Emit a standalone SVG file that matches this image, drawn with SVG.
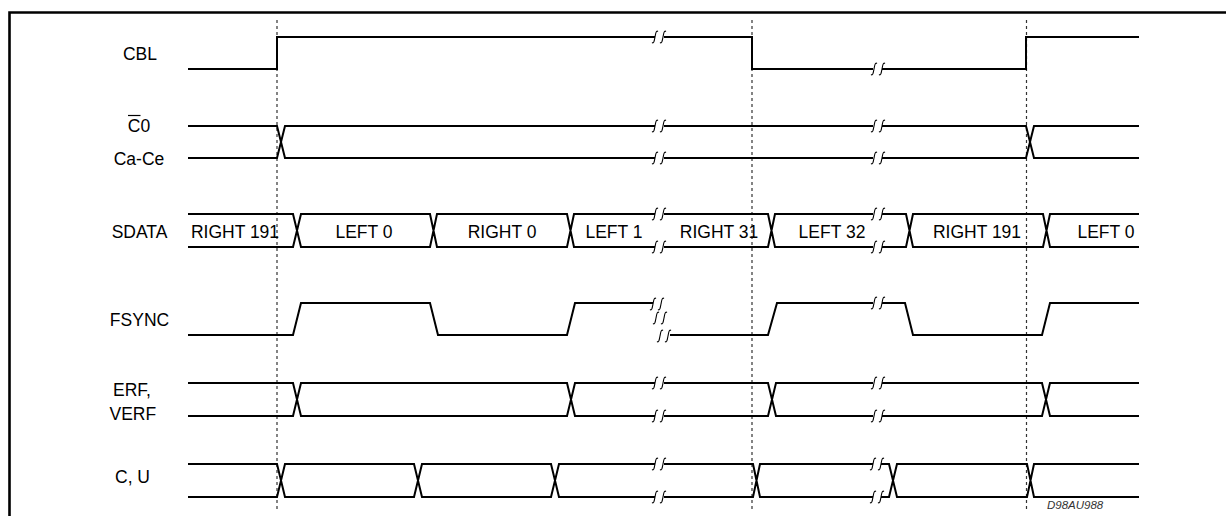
<svg xmlns="http://www.w3.org/2000/svg" xmlns:xlink="http://www.w3.org/1999/xlink" width="1226" height="516" viewBox="0 0 1226 516">
<style>
.sig{fill:none;stroke:#000;stroke-width:2;stroke-linejoin:miter;stroke-linecap:butt}
.lbl{font-family:"Liberation Sans",Arial,sans-serif;font-size:17.5px;fill:#000}
.mid{text-anchor:middle}
.grid{stroke:#333;stroke-width:1.2;stroke-dasharray:3 3;fill:none}
.frame{fill:none;stroke:#000;stroke-width:2.6}
.sq{fill:none;stroke:#000;stroke-width:1.1}
.code{font-family:"Liberation Sans",Arial,sans-serif;font-size:11.5px;font-style:italic;fill:#333}
</style>
<defs>
<g id="brk">
<path class="sq" d="M3,-5.5 C1,-7 0.6,-3 0,0 C-0.6,3 -1,7 -3,5.5"/>
<path class="sq" d="M11,-5.5 C9,-7 8.6,-3 8,0 C7.4,3 7,7 5,5.5"/>
</g>
</defs>
<rect width="1226" height="516" fill="#fff"/>
<g id="frame">
<path class="frame" d="M9.5,516 V12.5 H1226"/>
</g>
<g id="grid">
<line class="grid" x1="277" y1="20" x2="277" y2="512"/>
<line class="grid" x1="752" y1="20" x2="752" y2="512"/>
<line class="grid" x1="1026.5" y1="20" x2="1026.5" y2="512"/>
</g>
<g id="CBL">
<text class="lbl mid" x="140" y="60">CBL</text>
<path class="sig" d="M188,69 H277 V37 H655 M664,37 H752 V69 H873 M882,69 H1026 V37 H1139"/>
<use xlink:href="#brk" x="655" y="37"/>
<use xlink:href="#brk" x="874" y="69"/>
</g>
<g id="C0">
<text class="lbl mid" x="139" y="132">C0</text>
<line x1="128" y1="115.5" x2="140.5" y2="115.5" stroke="#000" stroke-width="1.2"/>
<text class="lbl mid" x="139" y="165">Ca-Ce</text>
<path class="sig" d="M188,126 H277 L285,158 H655 M188,158 H277 L285,126 H655 M664,126 H873 M664,158 H873 M882,126 H1026 L1034,158 H1139 M882,158 H1026 L1034,126 H1139"/>
<use xlink:href="#brk" x="655" y="126"/>
<use xlink:href="#brk" x="655" y="158"/>
<use xlink:href="#brk" x="874" y="126"/>
<use xlink:href="#brk" x="874" y="158"/>
</g>
<g id="SDATA">
<text class="lbl mid" x="139.5" y="237.5">SDATA</text>
<path class="sig" d="M188,214 H293 L301,247 H430 L437,214 H567 L574,247 H655 M188,247 H293 L301,214 H430 L437,247 H567 L574,214 H655 M664,214 H768 L775,247 H873 M664,247 H768 L775,214 H873 M882,214 H906 L913,247 H1043 L1050,214 H1139 M882,247 H906 L913,214 H1043 L1050,247 H1139"/>
<use xlink:href="#brk" x="655" y="214"/>
<use xlink:href="#brk" x="655" y="247"/>
<use xlink:href="#brk" x="874" y="214"/>
<use xlink:href="#brk" x="874" y="247"/>
<text class="lbl mid" x="235" y="237.5">RIGHT 191</text>
<text class="lbl mid" x="364" y="237.5">LEFT 0</text>
<text class="lbl mid" x="502" y="237.5">RIGHT 0</text>
<text class="lbl mid" x="614" y="237.5">LEFT 1</text>
<text class="lbl mid" x="719" y="237.5">RIGHT 31</text>
<text class="lbl mid" x="832" y="237.5">LEFT 32</text>
<text class="lbl mid" x="977" y="237.5">RIGHT 191</text>
<text class="lbl mid" x="1106" y="237.5">LEFT 0</text>
</g>
<g id="FSYNC">
<text class="lbl mid" x="139.5" y="326">FSYNC</text>
<path class="sig" d="M188,335 H293 L301,303 H430 L438,335 H567 L575,303 H653 M670,335 H768 L777,303 H873 M882,303 H905 L913,335 H1042 L1050,303 H1139"/>
<use xlink:href="#brk" x="653" y="304"/>
<use xlink:href="#brk" x="656" y="318"/>
<use xlink:href="#brk" x="660" y="336"/>
<use xlink:href="#brk" x="874" y="303"/>
</g>
<g id="ERF">
<text class="lbl" x="113" y="396">ERF,</text>
<text class="lbl" x="109.5" y="420">VERF</text>
<path class="sig" d="M188,383 H293 L301,416 H567 L575,383 H655 M188,416 H293 L301,383 H567 L575,416 H655 M664,383 H768 L776,416 H873 M664,416 H768 L776,383 H873 M882,383 H1042 L1050,416 H1139 M882,416 H1042 L1050,383 H1139"/>
<use xlink:href="#brk" x="655" y="383"/>
<use xlink:href="#brk" x="655" y="416"/>
<use xlink:href="#brk" x="874" y="383"/>
<use xlink:href="#brk" x="874" y="416"/>
</g>
<g id="CU">
<text class="lbl" x="115" y="482.5">C, U</text>
<path class="sig" d="M188,464 H277 L285,497 H414 L422,464 H551 L559,497 H655 M188,497 H277 L285,464 H414 L422,497 H551 L559,464 H655 M664,464 H753 L760,497 H873 M664,497 H753 L760,464 H873 M881,464 H889 L897,497 H1027 L1034,464 H1139 M881,497 H889 L897,464 H1027 L1034,497 H1139"/>
<use xlink:href="#brk" x="655" y="464"/>
<use xlink:href="#brk" x="655" y="497"/>
<use xlink:href="#brk" x="873" y="464"/>
<use xlink:href="#brk" x="873" y="497"/>
<text class="code" x="1047" y="509">D98AU988</text>
</g>
</svg>
